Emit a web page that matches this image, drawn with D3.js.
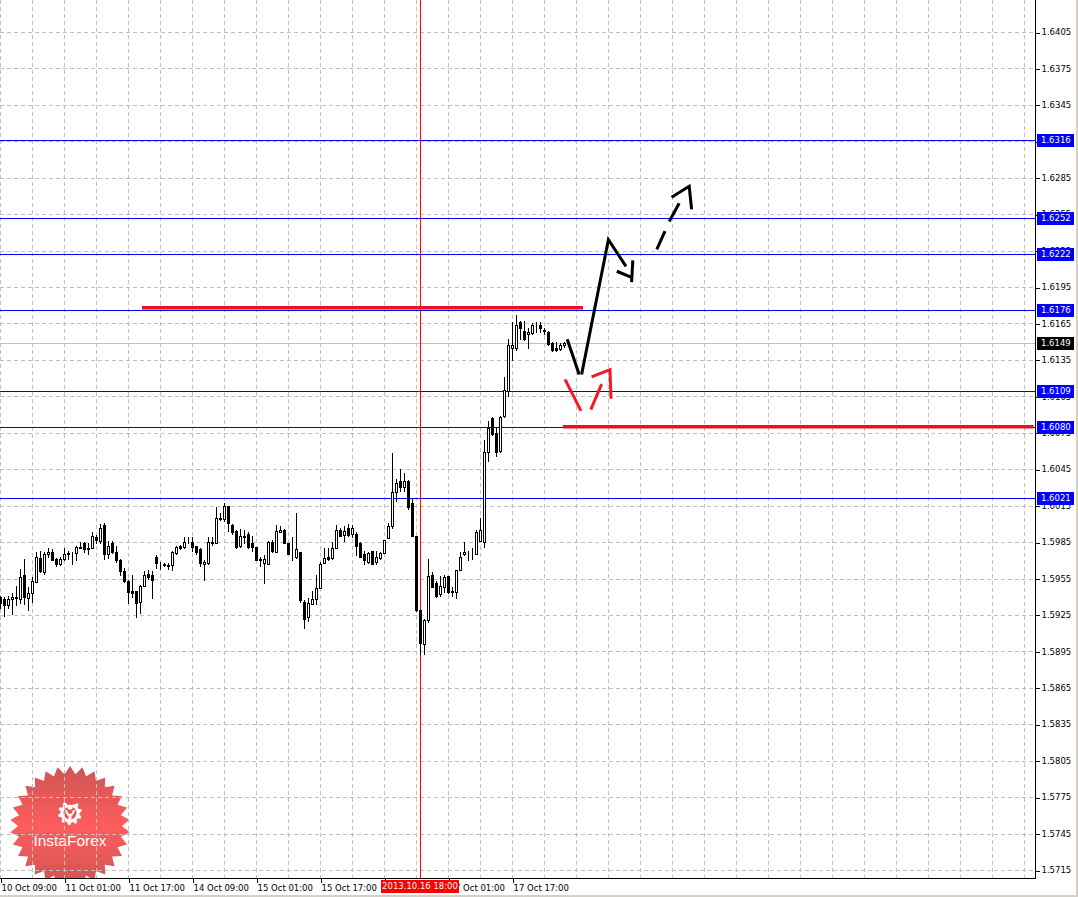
<!DOCTYPE html>
<html><head><meta charset="utf-8">
<script src="https://cdn.jsdelivr.net/npm/d3@7"></script>
<style>
html,body{margin:0;padding:0;background:#fff;}
svg{display:block;font-family:"DejaVu Sans",sans-serif;}
</style></head><body>
<svg id="c" width="1078" height="897"></svg>
<script>
// ---- DATA (GBPUSD H1) ----
const opens = [1.5940,1.5938,1.5933,1.5938,1.5940,1.5938,1.5958,1.5939,1.5943,1.5952,
1.5972,1.5960,1.5975,1.5977,1.5971,1.5967,1.5971,1.5975,1.5976,1.5976,
1.5980,1.5984,1.5979,1.5980,1.5989,1.5986,1.5999,1.5975,1.5984,1.5977,
1.5970,1.5961,1.5953,1.5945,1.5945,1.5936,1.5949,1.5959,1.5958,1.5973,
1.5967,1.5967,1.5966,1.5966,1.5976,1.5982,1.5981,1.5986,1.5985,1.5982,
1.5979,1.5967,1.5968,1.5984,1.5984,1.6005,1.6004,1.6015,1.5999,1.5994,
1.5982,1.5990,1.5992,1.5984,1.5981,1.5971,1.5968,1.5967,1.5985,1.5977,
1.5993,1.5995,1.5984,1.5975,1.5973,1.5977,1.5936,1.5923,1.5934,1.5938,
1.5947,1.5968,1.5973,1.5972,1.5980,1.5995,1.5991,1.5997,1.5992,1.5992,
1.5984,1.5975,1.5969,1.5978,1.5969,1.5972,1.5976,1.5988,1.5998,1.6026,
1.6035,1.6030,1.6035,1.6017,1.5990,1.5929,1.5901,1.5921,1.5958,1.5951,
1.5942,1.5948,1.5957,1.5944,1.5944,1.5962,1.5975,1.5976,1.5977,1.5975,
1.5986,1.5985,1.6059,1.6087,1.6075,1.6060,1.6089,1.6109,1.6145,1.6145,
1.6166,1.6159,1.6156,1.6157,1.6163,1.6164,1.6160,1.6158,1.6149,1.6145,
1.6144,1.6147];
const highs = [1.5941,1.5940,1.5941,1.5943,1.5949,1.5963,1.5971,1.5948,1.5956,1.5977,
1.5978,1.5977,1.5980,1.5979,1.5972,1.5973,1.5980,1.5978,1.5977,1.5982,
1.5985,1.5985,1.5984,1.5993,1.5991,1.6000,1.6001,1.5986,1.5986,1.5982,
1.5971,1.5964,1.5954,1.5958,1.5945,1.5950,1.5961,1.5962,1.5961,1.5974,
1.5969,1.5968,1.5968,1.5978,1.5982,1.5983,1.5989,1.5989,1.5989,1.5982,
1.5980,1.5970,1.5989,1.5989,1.6014,1.6009,1.6017,1.6015,1.6000,1.5995,
1.5996,1.5995,1.5993,1.5990,1.5981,1.5973,1.5974,1.5986,1.5987,1.5999,
1.5998,1.5996,1.5984,1.5989,1.6009,1.5977,1.5937,1.5939,1.5945,1.5958,
1.5969,1.5980,1.5980,1.5985,1.5999,1.5997,1.5998,1.6000,1.5999,1.5993,
1.5985,1.5978,1.5977,1.5978,1.5978,1.5977,1.5987,1.6001,1.6058,1.6037,
1.6045,1.6042,1.6036,1.6021,1.5990,1.5929,1.5922,1.5971,1.5960,1.5953,
1.5957,1.5958,1.5957,1.5948,1.5962,1.5977,1.5985,1.5978,1.5980,1.5995,
1.6005,1.6069,1.6085,1.6088,1.6079,1.6089,1.6121,1.6152,1.6166,1.6172,
1.6167,1.6167,1.6161,1.6165,1.6166,1.6166,1.6161,1.6159,1.6150,1.6150,
1.6149,1.6150];
const lows = [1.5931,1.5924,1.5931,1.5926,1.5933,1.5935,1.5934,1.5929,1.5936,1.5952,
1.5960,1.5959,1.5973,1.5970,1.5965,1.5966,1.5970,1.5971,1.5967,1.5970,
1.5980,1.5977,1.5975,1.5980,1.5984,1.5984,1.5971,1.5972,1.5976,1.5969,
1.5958,1.5952,1.5935,1.5940,1.5923,1.5927,1.5949,1.5955,1.5939,1.5964,
1.5963,1.5965,1.5963,1.5962,1.5975,1.5979,1.5980,1.5984,1.5978,1.5975,
1.5965,1.5954,1.5967,1.5983,1.5984,1.6003,1.6002,1.5994,1.5992,1.5980,
1.5981,1.5984,1.5980,1.5978,1.5970,1.5965,1.5951,1.5967,1.5977,1.5977,
1.5993,1.5984,1.5975,1.5970,1.5972,1.5936,1.5914,1.5920,1.5934,1.5934,
1.5947,1.5968,1.5970,1.5971,1.5980,1.5990,1.5986,1.5990,1.5989,1.5974,
1.5973,1.5967,1.5968,1.5967,1.5967,1.5971,1.5976,1.5988,1.5997,1.6019,
1.6027,1.6027,1.6012,1.5990,1.5928,1.5893,1.5893,1.5919,1.5948,1.5940,
1.5941,1.5944,1.5943,1.5941,1.5939,1.5962,1.5974,1.5970,1.5971,1.5975,
1.5986,1.5981,1.6052,1.6073,1.6056,1.6059,1.6088,1.6105,1.6135,1.6143,
1.6152,1.6151,1.6145,1.6156,1.6158,1.6158,1.6156,1.6147,1.6142,1.6142,
1.6143,1.6146];
const closes = [1.5935,1.5933,1.5938,1.5940,1.5939,1.5956,1.5940,1.5943,1.5953,1.5973,
1.5961,1.5975,1.5977,1.5970,1.5967,1.5971,1.5975,1.5976,1.5976,1.5981,
1.5981,1.5979,1.5980,1.5990,1.5987,1.5997,1.5975,1.5982,1.5977,1.5970,
1.5961,1.5953,1.5944,1.5943,1.5935,1.5949,1.5958,1.5956,1.5954,1.5968,
1.5967,1.5966,1.5965,1.5977,1.5981,1.5980,1.5985,1.5986,1.5981,1.5977,
1.5968,1.5969,1.5985,1.5985,1.6005,1.6004,1.6015,1.6001,1.5993,1.5981,
1.5990,1.5989,1.5981,1.5981,1.5970,1.5970,1.5971,1.5985,1.5978,1.5994,
1.5995,1.5984,1.5975,1.5975,1.5979,1.5937,1.5922,1.5935,1.5938,1.5947,
1.5967,1.5972,1.5971,1.5980,1.5995,1.5990,1.5994,1.5991,1.5997,1.5982,
1.5973,1.5970,1.5976,1.5967,1.5973,1.5976,1.5987,1.5998,1.6026,1.6034,
1.6030,1.6035,1.6014,1.5990,1.5929,1.5902,1.5921,1.5957,1.5948,1.5941,
1.5949,1.5956,1.5944,1.5945,1.5962,1.5973,1.5977,1.5976,1.5977,1.5993,
1.5995,1.6059,1.6079,1.6074,1.6059,1.6088,1.6110,1.6147,1.6147,1.6164,
1.6161,1.6152,1.6158,1.6164,1.6163,1.6161,1.6159,1.6148,1.6143,1.6143,
1.6147,1.6149];

const timeLabels = ["10 Oct 09:00","11 Oct 01:00","11 Oct 17:00","14 Oct 09:00","15 Oct 01:00","15 Oct 17:00","16 Oct 09:00","17 Oct 01:00","17 Oct 17:00"];
const timeLabelBars = [0,16,32,48,64,80,96,112,128];
const priceTicks = [1.5715,1.5745,1.5775,1.5805,1.5835,1.5865,1.5895,1.5925,1.5955,1.5985,1.6015,1.6045,1.6075,1.6105,1.6135,1.6165,1.6195,1.6225,1.6255,1.6285,1.6315,1.6345,1.6375,1.6405];
const tickLabels = ["1.5715","1.5745","1.5775","1.5805","1.5835","1.5865","1.5895","1.5925","1.5955","1.5985","1.6015","1.6045","1.6075","1.6105","1.6135","1.6165","1.6195","1.6225","1.6255","1.6285","1.6315","1.6345","1.6375","1.6405"];
const levelPrices = [1.6316,1.6252,1.6222,1.6176,1.6109,1.6080,1.6021];
const bidPrice = 1.6149;
const cursorBar = 105;
const cursorLabel = "2013.10.16 18:00";
const redLevelPrices = [1.6178,1.6080];
const redLevelFrom = [35.5,140.75];
const redLevelTo = [145.75,258.4];
const blackStroke1 = [[141.8,1.6152],[144.8,1.6123]];
const blackStroke2 = [[145.4,1.6123],[152.1,1.6234],[156.5,1.6212]];
const blackHead = [[154.2,1.6208],[157.9,1.6203]];
const blackHead2 = [[158.2,1.6217],[157.9,1.6199]];
const dashSegs = [
  [[164.2,1.6226],[166.25,1.6241]],
  [[167.3,1.6249],[169.8,1.6264]],
  [[167.9,1.6269],[172.3,1.6278],[172.9,1.6259]]
];
const redSegs = [
  [[141.25,1.6119],[145.25,1.6093]],
  [[147.7,1.6094],[150.4,1.6115]],
  [[147.9,1.6121],[152.5,1.6127],[152.75,1.6103]]
];
const logoText = "InstaForex";

// ---- LAYOUT ----
const W = 1078, H = 897, plotR = 1035, plotB = 878;
const svg = d3.select("#c");
const x = d3.scaleLinear().domain([0, 258.75]).range([0, plotR]);
const y = d3.scaleLinear().domain([1.5715, 1.6405]).range([870, 32]);
const bars = opens.map((o,i)=>({i, o, h:highs[i], l:lows[i], c:closes[i]}));
const snap = v => Math.round(v) + 0.5;

svg.append("rect").attr("width",W).attr("height",H).attr("fill","#fff");
// window border
svg.append("rect").attr("x",1076).attr("y",0).attr("width",2).attr("height",H).attr("fill","#d4d0c8");
svg.append("rect").attr("x",0).attr("y",895).attr("width",W).attr("height",2).attr("fill","#d4d0c8");

// ---- LOGO ----
const defs = svg.append("defs");
const grad = defs.append("linearGradient").attr("id","lg").attr("x1",0).attr("y1",0).attr("x2",0).attr("y2",1);
grad.append("stop").attr("offset","0%").attr("stop-color","#c84646");
grad.append("stop").attr("offset","50%").attr("stop-color","#ff4e4e");
grad.append("stop").attr("offset","100%").attr("stop-color","#c84646");
defs.append("clipPath").attr("id","plotclip").append("rect").attr("x",0).attr("y",0).attr("width",plotR).attr("height",plotB);
const logo = svg.append("g").attr("clip-path","url(#plotclip)");
const cx = 70, cy = 826, nP = 30, rO = 60, rI = 52;
const starPts = d3.range(nP*2).map(k=>{
  const a = k*Math.PI/nP - Math.PI/2, r = k%2===0 ? rO : rI;
  return [cx + r*Math.cos(a), cy + r*Math.sin(a)];
});
logo.append("path").attr("d", d3.line()(starPts)+"Z").attr("fill","url(#lg)").attr("opacity",0.92);
// gear icon
const gcx = 70, gcy = 813, nT = 10;
const gearPts = d3.range(nT*4).map(k=>{
  const a = k*Math.PI*2/(nT*4) - Math.PI/2;
  const r = (Math.floor(k/2)%2===0) ? 12 : 9.5;
  return [gcx + r*Math.cos(a), gcy + r*Math.sin(a)];
});
logo.append("path").attr("d", d3.line()(gearPts)+"Z").attr("fill","#fff");
logo.append("circle").attr("cx",gcx).attr("cy",gcy).attr("r",6.5).attr("fill","#f25050");
logo.append("rect").attr("x",gcx-3).attr("y",gcy-14).attr("width",6).attr("height",6).attr("fill","#f25050");
logo.append("circle").attr("cx",gcx).attr("cy",gcy-6).attr("r",2.6).attr("fill","#fff");
logo.append("path").attr("d",`M${gcx-5},${gcy-3} Q${gcx-4},${gcy+2} ${gcx-1.5},${gcy+3} L${gcx-1.5},${gcy+9} L${gcx+1.5},${gcy+9} L${gcx+1.5},${gcy+3} Q${gcx+4},${gcy+2} ${gcx+5},${gcy-3} L${gcx+3},${gcy-3} Q${gcx+2},${gcy+1} ${gcx},${gcy+1} Q${gcx-2},${gcy+1} ${gcx-3},${gcy-3} Z`).attr("fill","#fff");
logo.append("text").attr("x",cx).attr("y",846).attr("text-anchor","middle")
  .attr("font-family","'Liberation Sans',Arial,sans-serif").attr("font-size","15.5px").attr("fill","#fff").text(logoText);

// ---- GRID ----
const grid = svg.append("g").attr("stroke","#c0c0c0").attr("stroke-dasharray","4,3").attr("shape-rendering","crispEdges");
grid.selectAll("line.h").data(priceTicks).join("line").attr("class","h")
  .attr("x1",0).attr("x2",plotR).attr("y1",d=>snap(y(d))).attr("y2",d=>snap(y(d)));
grid.selectAll("line.v").data(d3.range(0, 259, 8)).join("line").attr("class","v")
  .attr("x1",d=>Math.round(x(d))+0.5).attr("x2",d=>Math.round(x(d))+0.5).attr("y1",0).attr("y2",plotB);

// bid line
svg.append("line").attr("x1",0).attr("x2",plotR).attr("y1",snap(y(bidPrice))).attr("y2",snap(y(bidPrice)))
  .attr("stroke","#c0c0c0").attr("shape-rendering","crispEdges");
// level lines
svg.append("g").selectAll("line").data(levelPrices).join("line")
  .attr("x1",0).attr("x2",plotR).attr("y1",d=>snap(y(d))).attr("y2",d=>snap(y(d)))
  .attr("stroke","#0000ff").attr("shape-rendering","crispEdges");
// cursor line
svg.append("line").attr("x1",Math.round(x(cursorBar))+0.5).attr("x2",Math.round(x(cursorBar))+0.5)
  .attr("y1",0).attr("y2",plotB).attr("stroke","#ff0000").attr("shape-rendering","crispEdges");

// ---- CANDLES ----
const cg = svg.append("g").attr("shape-rendering","crispEdges");
cg.selectAll("line.w").data(bars).join("line").attr("class","w")
  .attr("x1",d=>Math.round(x(d.i))+0.5).attr("x2",d=>Math.round(x(d.i))+0.5)
  .attr("y1",d=>Math.round(y(d.h))).attr("y2",d=>Math.round(y(d.l))+1)
  .attr("stroke","#000");
cg.selectAll("rect.b").data(bars).join("rect").attr("class","b")
  .attr("x",d=>Math.round(x(d.i))-0.5).attr("width",2)
  .attr("y",d=>Math.round(y(Math.max(d.o,d.c)))+0.5)
  .attr("height",d=>Math.max(0, Math.round(y(Math.min(d.o,d.c))) - Math.round(y(Math.max(d.o,d.c)))))
  .attr("fill",d=>d.c>=d.o ? "#fff" : "#000").attr("stroke","#000");

// ---- RED LEVELS & DRAWINGS ----
svg.append("g").selectAll("line").data(redLevelPrices).join("line")
  .attr("x1",(d,i)=>x(redLevelFrom[i])).attr("x2",(d,i)=>x(redLevelTo[i]))
  .attr("y1",d=>y(d)).attr("y2",d=>y(d)).attr("stroke","#e8141c").attr("stroke-width",3.5);
const ln = d3.line().x(d=>x(d[0])).y(d=>y(d[1]));
const dg = svg.append("g").attr("fill","none").attr("stroke-linecap","butt").attr("stroke-linejoin","miter");
[blackStroke1, blackStroke2, blackHead, blackHead2].forEach(p=>
  dg.append("path").attr("d",ln(p)).attr("stroke","#000").attr("stroke-width",3));
dashSegs.forEach(p=>dg.append("path").attr("d",ln(p)).attr("stroke","#000").attr("stroke-width",3));
redSegs.forEach(p=>dg.append("path").attr("d",ln(p)).attr("stroke","#ee1c24").attr("stroke-width",3));

// ---- AXES ----
const yAxis = d3.axisRight(y).tickValues(priceTicks).tickSize(4).tickPadding(2)
  .tickFormat((d,i)=>tickLabels[i]);
const ya = svg.append("g").attr("transform",`translate(${plotR+0.5},0)`).call(yAxis);
ya.select(".domain").remove();
ya.selectAll("text").attr("font-family","'DejaVu Sans',sans-serif").attr("font-size","8.5px").attr("fill","#000");
ya.selectAll("line").attr("shape-rendering","crispEdges").attr("transform","translate(0,0.5)");

const xAxis = d3.axisBottom(x).tickValues(timeLabelBars).tickSize(4).tickFormat((d,i)=>timeLabels[i]);
const xa = svg.append("g").attr("transform",`translate(0,${plotB+0.5})`).call(xAxis);
xa.select(".domain").remove();
xa.selectAll("line").attr("shape-rendering","crispEdges").attr("transform","translate(0.5,0)");
xa.selectAll("text").attr("text-anchor","start").attr("x",1).attr("y",6).attr("dy","0.71em")
  .attr("font-family","'DejaVu Sans',sans-serif").attr("font-size","8.5px").attr("fill","#000");

// frame lines
svg.append("line").attr("x1",plotR+0.5).attr("x2",plotR+0.5).attr("y1",0).attr("y2",plotB+1).attr("stroke","#000").attr("shape-rendering","crispEdges");
svg.append("line").attr("x1",0).attr("x2",plotR+1).attr("y1",plotB+0.5).attr("y2",plotB+0.5).attr("stroke","#000").attr("shape-rendering","crispEdges");

// price label boxes
const boxData = levelPrices.map(p=>({p, bg:"#0000ff"})).concat([{p:bidPrice, bg:"#000"}]);
const bx = svg.append("g");
bx.selectAll("rect").data(boxData).join("rect")
  .attr("x",plotR+2).attr("width",37).attr("y",d=>Math.round(y(d.p))-6).attr("height",13).attr("fill",d=>d.bg);
bx.selectAll("text").data(boxData).join("text")
  .attr("x",plotR+6).attr("y",d=>Math.round(y(d.p))+0.5).attr("dy","0.35em")
  .attr("font-size","8.5px").attr("fill","#fff").text(d=>d3.format(".4f")(d.p));

// cursor date label
const cxp = x(cursorBar);
svg.append("rect").attr("x",cxp-39).attr("y",plotB+2).attr("width",78).attr("height",13).attr("fill","#ff0000");
svg.append("text").attr("x",cxp).attr("y",plotB+8.5).attr("dy","0.35em").attr("text-anchor","middle")
  .attr("font-size","8.5px").attr("fill","#fff").text(cursorLabel);
</script>
</body></html>
